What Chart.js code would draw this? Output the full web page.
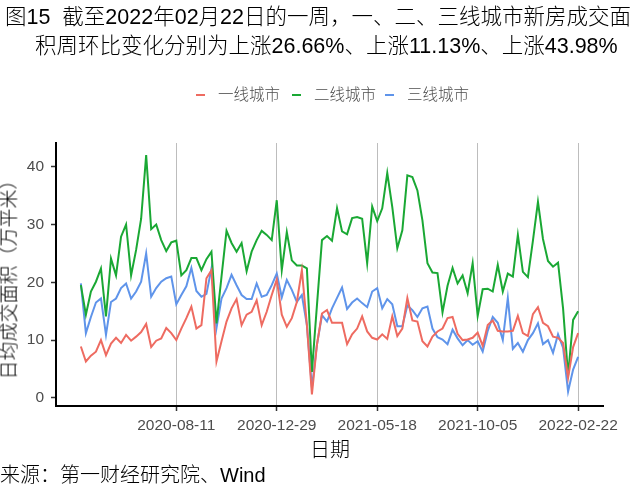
<!DOCTYPE html>
<html lang="zh">
<head>
<meta charset="UTF-8">
<title>一、二、三线城市新房成交面积</title>
<script src="https://cdn.jsdelivr.net/npm/chart.js"></script>
<style>
  body { margin: 0; background: #fff; }
  #wrap { position: relative; width: 640px; height: 498px; overflow: hidden;
          font-family: "Liberation Sans", Arial, "Noto Sans CJK SC", sans-serif; }
  #wrap canvas { position: absolute; left: 0; top: 0; }
  .txt { position: absolute; white-space: nowrap; line-height: 1.2; color: #000; font-weight: 300; }
  #t1 { left: 5px; top: 5px; font-size: 21.5px; }
  #t2 { left: 35px; top: 34px; font-size: 21.5px; }
  .lg { position: absolute; top: 85px; font-size: 15.5px; color: #4d4d4d; line-height: 20px; font-weight: 300; }
  .lg i { position: absolute; left: -22px; top: 9px; width: 9px; height: 2px; }
  #ytitle { left: 10px; top: 275px; font-size: 19px; transform: translate(-50%, -50%) rotate(-90deg); }
  #xtitle { left: 330px; top: 450px; font-size: 20px; transform: translate(-50%, -50%); }
  #source { left: 0; top: 463px; font-size: 20px; }
</style>
</head>
<body>
<div id="wrap">
  <canvas id="myChart" width="640" height="498"></canvas>
  <div class="txt" id="t1">图15&nbsp;&nbsp;截至2022年02月22日的一周，一、二、三线城市新房成交面</div>
  <div class="txt" id="t2">积周环比变化分别为上涨26.66%、上涨11.13%、上涨43.98%</div>
  <div class="lg" style="left:218px"><i style="background:#EE6B61"></i>一线城市</div>
  <div class="lg" style="left:314px"><i style="background:#1AA834"></i>二线城市</div>
  <div class="lg" style="left:407px"><i style="background:#5F94EA"></i>三线城市</div>
  <div class="txt" id="ytitle">日均成交面积（万平米）</div>
  <div class="txt" id="xtitle">日期</div>
  <div class="txt" id="source">来源：第一财经研究院、Wind</div>
</div>

<script>
// 周度数据，起始 2020-03-31，共 100 周
const startDate = '2020-03-31';
const tickLabels = ['2020-08-11', '2020-12-29', '2021-05-18', '2021-10-05', '2022-02-22'];
const seriesNames = ['一线城市', '二线城市', '三线城市'];
const seriesColors = ['#EE6B61', '#1AA834', '#5F94EA'];

const tier1 = [
  8.9, 6.3, 7.3, 8.0, 10.0, 7.4, 9.4, 10.4, 9.5, 10.9, 9.9, 10.6, 11.4, 12.8, 8.8, 9.9, 10.3, 12.1, 11.2, 10.0,
  12.0, 13.8, 15.8, 12.0, 12.6, 20.7, 22.1, 6.3, 9.8, 13.2, 15.5, 17.1, 12.6, 14.4, 14.9, 16.9, 12.6, 14.9, 17.8, 20.5,
  14.4, 12.3, 13.8, 16.6, 22.1, 12.6, 0.6, 9.2, 14.6, 15.2, 13.0, 13.0, 13.0, 9.3, 11.0, 12.0, 14.1, 11.5, 10.4, 10.1,
  11.0, 10.2, 14.1, 10.7, 12.0, 17.3, 13.4, 13.2, 9.8, 8.9, 10.6, 11.5, 12.0, 13.8, 14.0, 11.1, 10.0, 10.1, 10.4, 11.3,
  9.0, 12.6, 13.4, 11.6, 11.5, 11.5, 11.6, 14.2, 11.2, 10.7, 14.5, 15.7, 13.0, 12.4, 10.6, 10.4, 9.5, 3.5, 8.8, 11.2
];
const tier2 = [
  19.5, 14.4, 18.4, 20.1, 22.4, 14.1, 24.1, 21.2, 27.9, 30.0, 21.2, 25.6, 31.0, 42.0, 29.2, 30.0, 27.3, 25.4, 26.9, 27.2,
  21.2, 22.1, 24.2, 24.2, 22.1, 24.0, 25.3, 12.9, 21.0, 28.9, 26.8, 25.3, 26.8, 21.9, 25.3, 27.3, 28.9, 28.2, 27.3, 34.2,
  22.1, 28.7, 23.8, 22.9, 22.9, 22.4, 4.5, 16.0, 27.3, 28.0, 27.2, 32.8, 28.8, 28.3, 31.1, 31.3, 31.0, 23.3, 33.1, 30.6,
  32.8, 38.9, 33.0, 25.9, 29.0, 38.5, 38.2, 35.9, 30.7, 23.3, 21.7, 21.6, 14.8, 19.4, 22.5, 19.8, 21.2, 18.1, 23.3, 14.2,
  18.8, 18.9, 18.4, 23.0, 18.4, 21.5, 21.0, 28.2, 21.8, 20.9, 27.2, 33.9, 27.5, 23.7, 22.7, 23.4, 15.5, 3.9, 13.5, 15.0
];
const tier3 = [
  19.8, 11.2, 14.0, 16.5, 17.2, 10.9, 16.6, 17.2, 19.0, 19.8, 17.2, 18.4, 20.1, 25.0, 17.5, 19.0, 20.1, 20.7, 21.0, 16.2,
  17.8, 19.3, 22.5, 18.5, 17.5, 18.0, 22.4, 12.1, 17.2, 19.0, 21.3, 19.5, 17.8, 17.1, 17.1, 19.8, 17.5, 17.8, 19.5, 21.5,
  17.4, 20.4, 18.7, 16.6, 17.8, 12.6, 1.8, 9.2, 14.3, 13.2, 15.5, 17.3, 19.1, 15.4, 16.5, 17.2, 16.4, 15.7, 18.4, 19.0,
  15.5, 17.1, 16.2, 12.4, 12.4, 16.0, 15.2, 14.0, 15.5, 15.8, 12.0, 10.5, 10.1, 9.3, 11.8, 10.3, 9.1, 10.0, 9.2, 9.8,
  8.0, 11.6, 14.0, 13.0, 10.0, 17.3, 8.5, 9.5, 8.0, 10.0, 11.2, 12.9, 9.3, 10.0, 7.8, 11.0, 8.7, 1.1, 4.9, 7.1
];

// 日期标签
const dates = tier1.map((v, i) => {
  const d = new Date(startDate + 'T00:00:00Z');
  d.setUTCDate(d.getUTCDate() + 7 * i);
  return d.toISOString().slice(0, 10);
});
const tickIdx = tickLabels.map(l => dates.indexOf(l));

const datasets = [tier1, tier2, tier3].map((vals, k) => ({
  label: seriesNames[k],
  data: vals.map((v, i) => ({ x: i, y: v })),
  borderColor: seriesColors[k],
  backgroundColor: seriesColors[k],
  borderWidth: 2,
  pointRadius: 0,
  tension: 0
}));

Chart.defaults.font.family = '"Liberation Sans", Arial, "Noto Sans CJK SC", sans-serif';

const ctx = document.getElementById('myChart').getContext('2d');
new Chart(ctx, {
  type: 'line',
  data: { datasets: datasets },
  options: {
    responsive: false,
    animation: false,
    events: [],
    layout: { padding: { left: 0, top: 143, right: 37, bottom: 0 } },
    plugins: { legend: { display: false }, tooltip: { enabled: false } },
    scales: {
      x: {
        type: 'linear',
        min: -4.95,
        max: 103.95,
        afterBuildTicks: s => { s.ticks = tickIdx.map(v => ({ value: v })); },
        afterFit: s => { s.height = 92; },
        ticks: {
          autoSkip: false,
          maxRotation: 0,
          padding: 5,
          color: '#4d4d4d',
          font: { size: 15.5 },
          callback: v => dates[v]
        },
        grid: { color: '#bdbdbd', lineWidth: 1, tickLength: 5, tickColor: '#333', tickWidth: 1.5 },
        border: { display: true, color: '#000', width: 2 }
      },
      y: {
        min: -1.4,
        max: 44.1,
        afterFit: s => { s.width = 56; },
        ticks: {
          stepSize: 10,
          includeBounds: false,
          padding: 7,
          color: '#4d4d4d',
          font: { size: 15.5 }
        },
        grid: { drawOnChartArea: false, tickLength: 5, tickColor: '#333', tickWidth: 1.5 },
        border: { display: true, color: '#000', width: 2 }
      }
    }
  }
});
</script>
</body>
</html>
